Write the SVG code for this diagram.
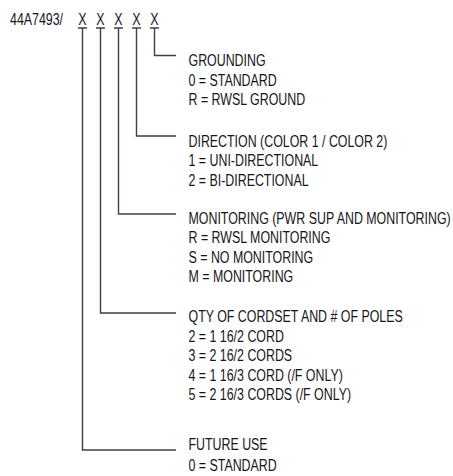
<svg xmlns="http://www.w3.org/2000/svg" width="453" height="476" viewBox="0 0 453 476">
<style>
text{font-family:"Liberation Sans",Arial,sans-serif;font-size:16px;fill:#16161c}
.c{fill:none;stroke:#3e3e52;stroke-width:1.4}
</style>
<rect width="453" height="476" fill="#fff"/>
<g id="part-number">
<text transform="translate(10,24.5) scale(0.775,1)">44A7493/</text>
<g text-anchor="middle">
<text transform="translate(82.5,24.5) scale(0.775,1)">X</text>
<text transform="translate(100.5,24.5) scale(0.775,1)">X</text>
<text transform="translate(118.5,24.5) scale(0.775,1)">X</text>
<text transform="translate(136.5,24.5) scale(0.775,1)">X</text>
<text transform="translate(154.5,24.5) scale(0.775,1)">X</text>
</g>
</g>
<g id="connectors" class="c">
<path d="M78 28H87M96 28H105M114 28H123M132 28H141M150 28H159"/>
<path d="M154.5 28V55.5H176"/>
<path d="M136.5 28V136H176"/>
<path d="M118.5 28V214H176"/>
<path d="M100.5 28V313H176"/>
<path d="M82.5 28V450H176"/>
</g>
<g id="grounding" transform="translate(188.5,0) scale(0.775,1)">
<text y="66.5">GROUNDING</text>
<text y="86">0 = STANDARD</text>
<text y="105.5">R = RWSL GROUND</text>
</g>
<g id="direction" transform="translate(188.5,0) scale(0.775,1)">
<text y="147">DIRECTION (COLOR 1 / COLOR 2)</text>
<text y="166.5">1 = UNI-DIRECTIONAL</text>
<text y="186">2 = BI-DIRECTIONAL</text>
</g>
<g id="monitoring" transform="translate(188.5,0) scale(0.775,1)">
<text y="224">MONITORING (PWR SUP AND MONITORING)</text>
<text y="243.5">R = RWSL MONITORING</text>
<text y="263">S = NO MONITORING</text>
<text y="282.5">M = MONITORING</text>
</g>
<g id="qty" transform="translate(188.5,0) scale(0.775,1)">
<text y="322.5">QTY OF CORDSET AND # OF POLES</text>
<text y="342">2 = 1 16/2 CORD</text>
<text y="361.5">3 = 2 16/2 CORDS</text>
<text y="381">4 = 1 16/3 CORD (/F ONLY)</text>
<text y="400.5">5 = 2 16/3 CORDS (/F ONLY)</text>
</g>
<g id="future-use" transform="translate(188.5,0) scale(0.775,1)">
<text y="450.5">FUTURE USE</text>
<text y="471">0 = STANDARD</text>
</g>
</svg>
